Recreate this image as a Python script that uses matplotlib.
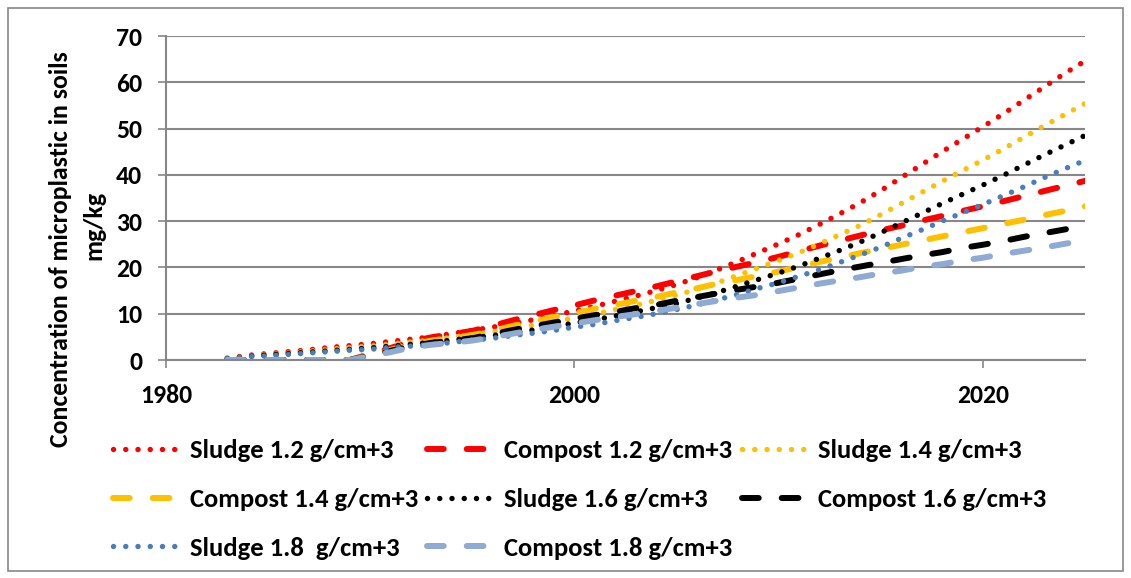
import matplotlib
matplotlib.use("Agg")
import matplotlib.pyplot as plt
from matplotlib.patches import Rectangle

plt.rcParams['font.family'] = ['Carlito', 'DejaVu Sans']
plt.rcParams['font.weight'] = 'bold'

# yearly values, 1983 .. 2025
years = list(range(1983, 2026))

sludge_12 = [0.4, 1.0, 1.4, 1.8, 2.2, 2.7, 3.1, 3.5, 4.0, 4.5,
             5.0, 5.7, 6.4, 7.1, 7.9, 8.7, 9.6, 10.6, 11.6, 12.7,
             13.8, 15.0, 16.3, 17.8, 19.5, 21.3, 23.2, 25.1, 27.1, 29.3,
             31.6, 34.0, 36.6, 39.4, 42.2, 45.0, 47.7, 50.4, 53.2, 56.1,
             59.0, 61.9, 64.6]
sludge_14 = [0.3, 0.9, 1.2, 1.5, 1.9, 2.3, 2.7, 3.0, 3.4, 3.9,
             4.3, 4.9, 5.5, 6.1, 6.8, 7.5, 8.2, 9.1, 9.9, 10.9,
             11.8, 12.9, 14.0, 15.3, 16.7, 18.3, 19.9, 21.5, 23.2, 25.1,
             27.1, 29.1, 31.4, 33.8, 36.2, 38.6, 40.9, 43.2, 45.6, 48.1,
             50.6, 53.0, 55.4]
sludge_16 = [0.3, 0.8, 1.1, 1.4, 1.7, 2.0, 2.3, 2.6, 3.0, 3.4,
             3.8, 4.3, 4.8, 5.3, 5.9, 6.5, 7.2, 8.0, 8.7, 9.5,
             10.4, 11.3, 12.2, 13.4, 14.6, 16.0, 17.4, 18.8, 20.3, 22.0,
             23.7, 25.5, 27.5, 29.6, 31.7, 33.8, 35.8, 37.8, 39.9, 42.1,
             44.3, 46.4, 48.5]
sludge_18 = [0.3, 0.7, 0.9, 1.2, 1.5, 1.8, 2.1, 2.3, 2.7, 3.0,
             3.3, 3.8, 4.3, 4.7, 5.3, 5.8, 6.4, 7.1, 7.7, 8.5,
             9.2, 10.0, 10.9, 11.9, 13.0, 14.2, 15.5, 16.7, 18.1, 19.5,
             21.1, 22.7, 24.4, 26.3, 28.1, 30.0, 31.8, 33.6, 35.5, 37.4,
             39.4, 41.3, 43.1]

compost_12 = [0, 0, 0, 0, 0, 0, 0, 1.3, 2.6, 4.0,
              4.9, 5.6, 6.3, 7.4, 8.6, 9.7, 10.8, 11.8, 12.9, 13.9,
              14.9, 15.9, 17.0, 18.1, 19.2, 20.2, 21.2, 22.3, 23.5, 24.7,
              25.8, 26.9, 28.0, 29.0, 30.1, 31.1, 32.2, 33.2, 34.3, 35.4,
              36.5, 37.6, 38.7]
compost_14 = [0, 0, 0, 0, 0, 0, 0, 1.1, 2.2, 3.4,
              4.2, 4.8, 5.4, 6.3, 7.4, 8.3, 9.3, 10.1, 11.1, 11.9,
              12.8, 13.6, 14.6, 15.5, 16.5, 17.3, 18.2, 19.1, 20.1, 21.2,
              22.1, 23.1, 24.0, 24.9, 25.8, 26.7, 27.6, 28.5, 29.4, 30.3,
              31.3, 32.2, 33.2]
compost_16 = [0, 0, 0, 0, 0, 0, 0, 1.0, 2.0, 3.0,
              3.7, 4.2, 4.7, 5.6, 6.5, 7.3, 8.1, 8.9, 9.7, 10.4,
              11.2, 11.9, 12.8, 13.6, 14.4, 15.2, 15.9, 16.7, 17.6, 18.5,
              19.4, 20.2, 21.0, 21.8, 22.6, 23.3, 24.2, 24.9, 25.7, 26.6,
              27.4, 28.2, 29.0]
compost_18 = [0, 0, 0, 0, 0, 0, 0, 0.9, 1.7, 2.7,
              3.3, 3.7, 4.2, 4.9, 5.7, 6.5, 7.2, 7.9, 8.6, 9.3,
              9.9, 10.6, 11.3, 12.1, 12.8, 13.5, 14.1, 14.9, 15.7, 16.5,
              17.2, 17.9, 18.7, 19.3, 20.1, 20.7, 21.5, 22.1, 22.9, 23.6,
              24.3, 25.1, 25.8]

series = [
    ("Sludge 1.2 g/cm+3", sludge_12, "#FF0000", "dot"),
    ("Compost 1.2 g/cm+3", compost_12, "#FF0000", "dash"),
    ("Sludge 1.4 g/cm+3", sludge_14, "#FFC000", "dot"),
    ("Compost 1.4 g/cm+3", compost_14, "#FFC000", "dash"),
    ("Sludge 1.6 g/cm+3", sludge_16, "#000000", "dot"),
    ("Compost 1.6 g/cm+3", compost_16, "#000000", "dash"),
    ("Sludge 1.8  g/cm+3", sludge_18, "#4A7EBB", "dot"),
    ("Compost 1.8 g/cm+3", compost_18, "#8FAAD3", "dash"),
]

W, H = 1131, 578
FS = 18.5
fig = plt.figure(figsize=(W / 100, H / 100), dpi=100)
ax = fig.add_axes([166 / W, 1 - 360 / H, (1085 - 166) / W, (360 - 36) / H])

handles = []
for label, vals, color, kind in series:
    if kind == "dot":
        ln, = ax.plot(years, vals, color=color, lw=3.9,
                      linestyle=(0, (0.01, 2.25)), dash_capstyle='round', label=label)
    else:
        ln, = ax.plot(years, vals, color=color, lw=4.3,
                      linestyle=(0, (2.8, 3.85)), dash_capstyle='round', label=label)
    handles.append(ln)

grid_col = "#878787"
ax.set_xlim(1980, 2025)
ax.set_ylim(0, 70)
ax.set_xticks([1980, 2000, 2020])
ax.set_yticks(range(0, 71, 10))
ax.yaxis.grid(True, color=grid_col, lw=1.5)
ax.set_axisbelow(True)
for s in ["top", "right"]:
    ax.spines[s].set_visible(False)
for s in ["left", "bottom"]:
    ax.spines[s].set_color(grid_col)
    ax.spines[s].set_linewidth(1.5)
ax.tick_params(axis='y', direction='out', length=6, width=1.2, color=grid_col,
               pad=11, labelsize=FS)
ax.tick_params(axis='x', direction='out', length=6, width=1.2, color=grid_col,
               pad=11, labelsize=FS)
for t in ax.get_xticklabels() + ax.get_yticklabels():
    t.set_fontweight('bold')

fig.text(61 / W, 1 - 249 / H, "Concentration of microplastic in soils",
         rotation=90, ha='center', va='center', fontsize=FS, fontweight='bold')
fig.text(94 / W, 1 - 225 / H, "mg/kg",
         rotation=90, ha='center', va='center', fontsize=FS, fontweight='bold')

# legend reads row by row in the reference
order = [0, 3, 6, 1, 4, 7, 2, 5]
fig.legend([handles[i] for i in order], [series[i][0] for i in order],
           ncol=3, loc='upper left', bbox_to_anchor=(113 / W, 1 - 439 / H),
           frameon=False, handlelength=2.51, handletextpad=0.375,
           columnspacing=0.34, labelspacing=0.97, borderpad=0, borderaxespad=0,
           prop={'family': ['Carlito', 'DejaVu Sans'], 'weight': 'bold', 'size': 19.2})

fig.patches.append(Rectangle((8 / W, 1 - 571 / H), (1123 - 8) / W, (571 - 8) / H,
                             transform=fig.transFigure, fill=False,
                             edgecolor="#878787", lw=1.2))

fig.savefig("out.png", dpi=100)
